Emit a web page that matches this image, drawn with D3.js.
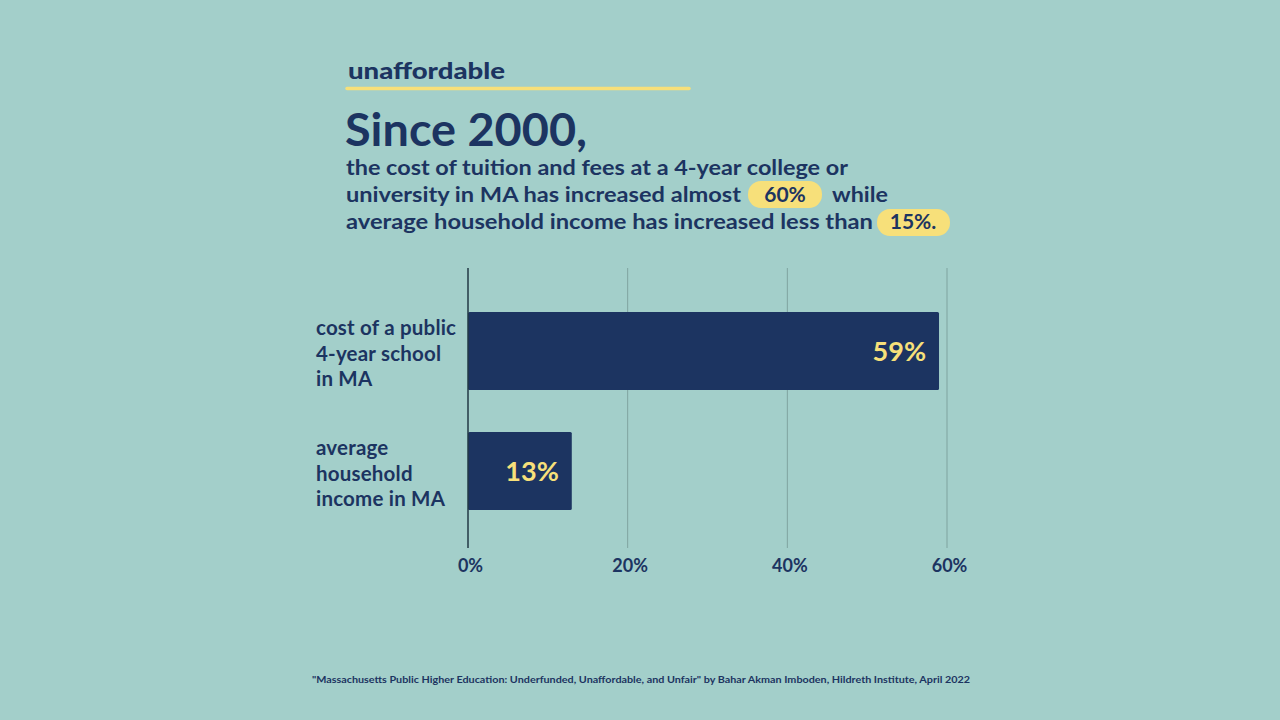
<!DOCTYPE html>
<html><head><meta charset="utf-8">
<script src="https://cdn.jsdelivr.net/npm/d3@7"></script>
<style>
html,body{margin:0;padding:0;background:#a3cfca;}
svg{display:block;}
text{font-family:Lato,"Open Sans",sans-serif;}
</style></head>
<body><svg id="c" width="1280" height="720"></svg>
<script>
const categories = [["cost of a public","4-year school","in MA"],["average","household","income in MA"]];
const values = [59, 13];
const valueLabels = ["59%","13%"];
const tickValues = [0, 20, 40, 60];
const tickLabels = ["0%","20%","40%","60%"];

const navy = "#1c3461", yellow = "#f7e07a", bg = "#a3cfca";
const svg = d3.select("#c");
svg.append("rect").attr("width",1280).attr("height",720).attr("fill",bg);

// header
svg.append("text").attr("x",348).attr("y",79).attr("font-size",22).attr("font-weight",900).attr("fill",navy)
  .attr("textLength",157).attr("lengthAdjust","spacingAndGlyphs").text("unaffordable");
svg.append("line").attr("x1",347).attr("x2",689).attr("y1",88.5).attr("y2",88.5).attr("stroke",yellow).attr("stroke-width",3.5).attr("stroke-linecap","round");
svg.append("text").attr("x",345).attr("y",146).attr("font-size",45).attr("font-weight",700).attr("fill",navy)
  .attr("textLength",242).attr("lengthAdjust","spacingAndGlyphs").text("Since 2000,");

// pills
svg.append("rect").attr("x",748).attr("y",181).attr("width",74).attr("height",27).attr("rx",13).attr("fill",yellow);
svg.append("rect").attr("x",877).attr("y",209).attr("width",73).attr("height",27).attr("rx",13).attr("fill",yellow);

const sub = svg.append("g").attr("font-size",21).attr("font-weight",700).attr("fill",navy);
sub.append("text").attr("x",346).attr("y",175).attr("textLength",502).attr("lengthAdjust","spacingAndGlyphs").text("the cost of tuition and fees at a 4-year college or");
sub.append("text").attr("x",346).attr("y",202).attr("textLength",395).attr("lengthAdjust","spacingAndGlyphs").text("university in MA has increased almost");
sub.append("text").attr("x",785).attr("y",202).attr("text-anchor","middle").text("60%");
sub.append("text").attr("x",832).attr("y",202).attr("textLength",56).attr("lengthAdjust","spacingAndGlyphs").text("while");
sub.append("text").attr("x",346).attr("y",229).attr("textLength",527).attr("lengthAdjust","spacingAndGlyphs").text("average household income has increased less than");
sub.append("text").attr("x",913).attr("y",229).attr("text-anchor","middle").text("15%.");

// chart
const x = d3.scaleLinear().domain([0,60]).range([468,947]);
const y = d3.scaleBand().domain(d3.range(values.length)).range([292,530]).paddingInner(0.35).paddingOuter(1/6);

const grid = svg.append("g");
grid.selectAll("line").data(tickValues.slice(1)).join("line")
  .attr("x1",d=>x(d)).attr("x2",d=>x(d)).attr("y1",268).attr("y2",548)
  .attr("stroke","#7fa39f").attr("stroke-width",1);

svg.append("g").selectAll("rect").data(values).join("rect")
  .attr("x",x(0)).attr("y",(d,i)=>y(i)).attr("width",d=>x(d)-x(0)).attr("height",y.bandwidth())
  .attr("fill",navy).attr("rx",1.5);

svg.append("line").attr("x1",x(0)).attr("x2",x(0)).attr("y1",268).attr("y2",548).attr("stroke","#223845").attr("stroke-width",1.5);

svg.append("g").selectAll("text").data(values).join("text")
  .attr("x",d=>x(d)-13).attr("y",(d,i)=>y(i)+y.bandwidth()/2+10).attr("text-anchor","end")
  .attr("font-size",27).attr("font-weight",700).attr("fill",yellow).text((d,i)=>valueLabels[i]);

// category labels
const cat = svg.append("g").attr("font-size",20.5).attr("font-weight",700).attr("fill",navy).attr("letter-spacing",0.2);
categories.forEach((lines,i)=>{
  const cy = y(i)+y.bandwidth()/2;
  lines.forEach((l,j)=>{
    cat.append("text").attr("x",316).attr("y",cy+9.5+(j-1)*25.5).text(l);
  });
});

// x axis labels
const xa = svg.append("g").attr("transform","translate(0,548)")
  .call(d3.axisBottom(x).tickValues(tickValues).tickSize(0).tickPadding(11).tickFormat((d,i)=>tickLabels[i]));
xa.select(".domain").remove();
xa.selectAll("text").attr("font-family","Lato, sans-serif").attr("font-size",18).attr("font-weight",700).attr("fill",navy).attr("dx",2);

// source
svg.append("text").attr("x",312).attr("y",683).attr("font-size",10).attr("font-weight",700).attr("fill",navy)
  .attr("textLength",658).attr("lengthAdjust","spacingAndGlyphs")
  .text("\"Massachusetts Public Higher Education: Underfunded, Unaffordable, and Unfair\" by Bahar Akman Imboden, Hildreth Institute, April 2022");
</script></body></html>
